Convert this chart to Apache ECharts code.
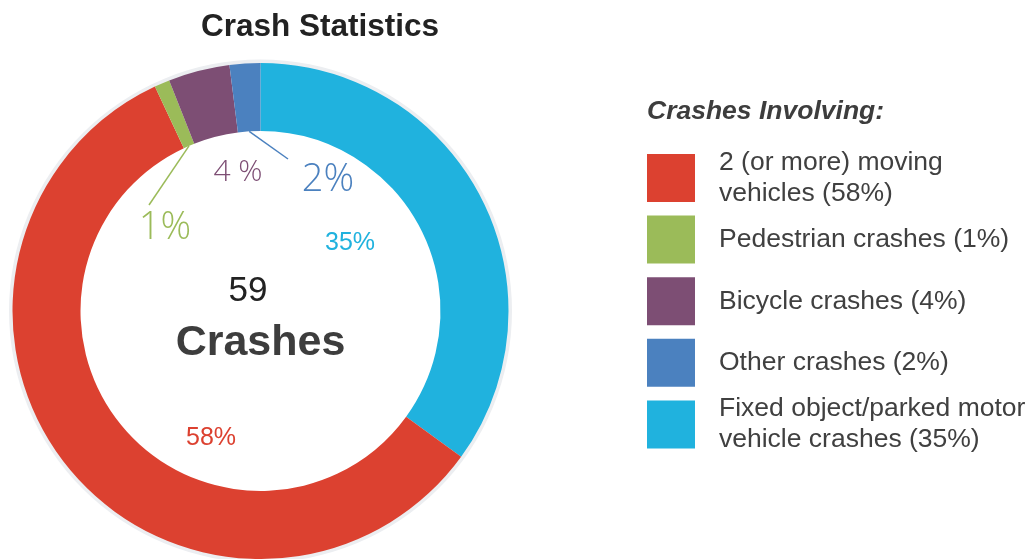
<!DOCTYPE html>
<html>
<head>
<meta charset="utf-8">
<script src="https://cdn.jsdelivr.net/npm/echarts@6/dist/echarts.min.js"></script>
<style>
  html, body { margin: 0; padding: 0; background: #ffffff; }
  #chart { width: 1031px; height: 559px; }
</style>
</head>
<body>
<div id="chart"></div>
<script>
// ---- data ----
const categories = [
  '2 (or more) moving\nvehicles',
  'Pedestrian crashes',
  'Bicycle crashes',
  'Other crashes',
  'Fixed object/parked motor\nvehicle crashes'
];
const shares = [58, 1, 4, 2, 35];          // percent of all crashes
const sliceColors = ['#DC4130', '#9BBB59', '#7D4E74', '#4B81BF', '#20B2DE'];
const totalCrashes = 59;
const chartTitle = 'Crash Statistics';
const legendTitle = 'Crashes Involving:';
const centerCaption = 'Crashes';

// ---- layout ----
const CX = 260.5, CY = 311, R0 = 180, R1 = 248;
const FONT = '"Liberation Sans", Arial, Helvetica, sans-serif';
const LIGHT = '"Open Sans", "Liberation Sans", Arial, sans-serif';
const LEGEND_LINE = 31, SWATCH = 48;

// the fixed-object slice starts at 12 o'clock, the rest follow clockwise
const pieOrder = [4, 0, 1, 2, 3];

// percent label spots, relative to the ring centre; optional leader line end
const labelSpots = [
  { dx: -49.5, dy: 127,  size: 25, weight: 400, family: FONT,  sep: '' },
  { dx: -95.5, dy: -83,  size: 38, weight: 300, family: LIGHT, sep: '', line: [-16, -23] },
  { dx: -22.5, dy: -139, size: 30, weight: 300, family: LIGHT, sep: ' ' },
  { dx: 67.5,  dy: -131, size: 38, weight: 300, family: LIGHT, sep: '', line: [-40, -21] },
  { dx: 89.5,  dy: -68,  size: 25, weight: 400, family: FONT,  sep: '' }
];

// mid angle (clockwise from 12 o'clock, radians) of each slice
const total = shares.reduce((a, b) => a + b, 0);
const midAngle = {};
let acc = 0;
pieOrder.forEach(i => {
  midAngle[i] = (acc + shares[i] / 2) / total * Math.PI * 2;
  acc += shares[i];
});

const pieData = pieOrder.map(i => ({
  name: categories[i],
  value: shares[i],
  itemStyle: { color: sliceColors[i] },
  label: {
    color: sliceColors[i],
    fontSize: labelSpots[i].size,
    fontWeight: labelSpots[i].weight,
    fontFamily: labelSpots[i].family
  },
  labelLine: {
    show: !!labelSpots[i].line,
    lineStyle: { color: sliceColors[i], width: 1.5 }
  }
}));

const chart = echarts.init(document.getElementById('chart'), null, { renderer: 'canvas' });

// one legend block per category so two-line entries keep an even row pitch
const legends = categories.map((name, i) => {
  const lines = name.split('\n').length;
  const textH = lines * LEGEND_LINE;
  const overhang = Math.max(0, (textH - SWATCH) / 2);
  return {
    data: [name],
    orient: 'vertical',
    left: 647,
    top: 154 + i * 61.6 - overhang,
    padding: 0,
    itemWidth: SWATCH,
    itemHeight: SWATCH,
    icon: 'rect',
    selectedMode: false,
    formatter: n => n + ' (' + shares[i] + '%)',
    textStyle: {
      fontFamily: FONT,
      fontSize: 26.5,
      lineHeight: LEGEND_LINE,
      color: '#404040',
      padding: [0, 0, 0, 19]
    }
  };
});

chart.setOption({
  animation: false,
  backgroundColor: '#ffffff',
  legend: legends,
  graphic: [
    {
      type: 'text', x: 320, y: 27,
      style: { text: chartTitle, font: 'bold 31.5px ' + FONT, fill: '#222222', align: 'center', verticalAlign: 'middle' }
    },
    {
      type: 'text', x: 647, y: 112,
      style: { text: legendTitle, font: 'italic bold 26.5px ' + FONT, fill: '#3d3d3d', align: 'left', verticalAlign: 'middle' }
    },
    {
      type: 'text', x: 248, y: 291,
      style: { text: String(totalCrashes), font: '35px ' + FONT, fill: '#222222', align: 'center', verticalAlign: 'middle' }
    },
    {
      type: 'text', x: 260.5, y: 343,
      style: { text: centerCaption, font: 'bold 43px ' + FONT, fill: '#3d3d3d', align: 'center', verticalAlign: 'middle' }
    }
  ],
  series: [
    {
      // faint halo around the ring
      type: 'pie',
      silent: true,
      z: 1,
      center: [CX, CY],
      radius: [R1 - 6, R1 + 3.5],
      label: { show: false },
      labelLine: { show: false },
      data: [{ value: 1, itemStyle: { color: '#eceef1' } }]
    },
    {
      type: 'pie',
      z: 2,
      silent: true,
      center: [CX, CY],
      radius: [R0, R1],
      startAngle: 90,
      clockwise: true,
      avoidLabelOverlap: false,
      emphasis: { disabled: true },
      itemStyle: { borderWidth: 0 },
      label: {
        show: true,
        position: 'outside',
        formatter: p => {
          const i = pieOrder[p.dataIndex];
          return p.value + labelSpots[i].sep + '%';
        }
      },
      labelLayout: params => {
        const i = pieOrder[params.dataIndex];
        const s = labelSpots[i];
        const x = CX + s.dx, y = CY + s.dy;
        const out = { x: x, y: y, align: 'center', verticalAlign: 'middle' };
        if (s.line) {
          const a = midAngle[i];
          out.labelLinePoints = [
            [CX + R0 * Math.sin(a), CY - R0 * Math.cos(a)],
            [x + s.line[0], y + s.line[1]],
            [x + s.line[0], y + s.line[1]]
          ];
        }
        return out;
      },
      data: pieData
    }
  ]
});
</script>
</body>
</html>
